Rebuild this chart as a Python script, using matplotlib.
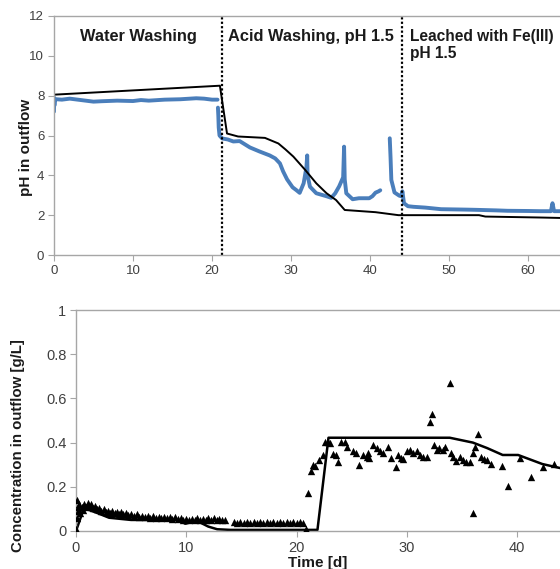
import numpy as np
import matplotlib
matplotlib.use('Agg')
import matplotlib.pyplot as plt

plt.rcParams['font.family'] = ['Liberation Sans', 'DejaVu Sans']

# pH measured (blue), NaN = gap
ph_t = [0, 0.02, 0.05, 0.1, 0.3, 1, 2, 3, 4, 5, 6, 8, 10, 11, 12, 14, 16, 18, 19, 20, 20.7,
        np.nan,
        20.75, 20.8, 20.85, 20.95, 21.3, 22, 22.7, 23.5, 24.8, 26, 27.3, 28, 28.6, 29, 29.5,
        30.2, 30.7, 31.1, 31.6, 31.95, 32.05, 32.1, 32.4, 33.2, 34.5, 35.1, 35.6, 36.1, 36.6,
        36.72, 36.8, 37.0, 37.4, 37.8, 38.6, 39.9, 40.3, 40.7, 41.1, 41.3,
        np.nan,
        42.5, 42.6, 42.7, 43.1, 43.7, 43.95, 44.1, 44.3, 44.8, 45.5, 47, 49, 52, 53.2, 56,
        57.4, 60, 61.6, 62.9, 63.1, 63.3, 64.1]
ph_meas = [7.2, 7.9, 7.5, 7.8, 7.82, 7.8, 7.85, 7.8, 7.75, 7.7, 7.72, 7.75, 7.73, 7.78, 7.75,
           7.8, 7.82, 7.87, 7.85, 7.8, 7.8,
           np.nan,
           7.4, 7.0, 6.4, 6.0, 5.85, 5.8, 5.7, 5.72, 5.4, 5.2, 5.0, 4.85, 4.6, 4.2, 3.8,
           3.4, 3.25, 3.12, 3.6, 4.4, 5.0, 4.0, 3.43, 3.1, 2.95, 2.87, 3.1, 3.45, 3.9,
           5.44, 3.8, 3.1, 2.95, 2.8, 2.85, 2.85, 2.95, 3.13, 3.2, 3.25,
           np.nan,
           5.86, 4.9, 3.77, 3.14, 2.98, 2.95, 3.2, 2.6, 2.45, 2.42, 2.38, 2.3, 2.28, 2.27, 2.24,
           2.22, 2.21, 2.2, 2.2, 2.6, 2.2, 2.2]

# pH model (black)
phm_t = [0, 21.0, 21.9, 23.3, 26.7, 28.4, 29.3, 30.3, 31.8, 33.2, 34.5, 35.7, 36.8, 40.7,
         43.6, 53.8, 54.6, 61.8, 64.1]
phm = [8.05, 8.5, 6.1, 5.95, 5.88, 5.6, 5.3, 4.94, 4.27, 3.6, 3.1, 2.76, 2.26, 2.15,
       2.0, 2.0, 1.93, 1.88, 1.86]

# concentration model (black)
cm_t = [0, 0.7, 1.2, 2.0, 3.0, 5.0, 9.0, 9.5, 9.9, 10.5, 11.0, 12.0, 12.8, 14, 21.9, 22.9,
        33.9, 36.0, 37.3, 38.7, 40.1, 42.3, 43.9]
cm = [0, 0.1, 0.095, 0.08, 0.06, 0.05, 0.05, 0.045, 0.033, 0.04, 0.045, 0.02, 0.008, 0.005,
      0.005, 0.422, 0.422, 0.40, 0.375, 0.344, 0.344, 0.303, 0.285]

# concentration measured (triangles)
c_t = [0.0, 0.05, 0.1, 0.15, 0.2, 0.3, 0.4, 0.5, 0.6, 0.75, 0.9, 1.05, 1.2, 1.35, 1.5, 1.7,
       1.9, 2.1, 2.3, 2.5, 2.7, 2.9, 3.1, 3.3, 3.5, 3.7, 3.9, 4.1, 4.3, 4.5, 4.75, 5.0, 5.25,
       5.5, 5.75, 6.0, 6.25, 6.5, 6.75, 7.0, 7.25, 7.5, 7.75, 8.0, 8.25, 8.5, 8.75, 9.0,
       9.25, 9.5, 9.75, 10.0, 10.25, 10.5, 10.75, 11.0, 11.25, 11.5, 11.75, 12.0, 12.25,
       12.5, 12.75, 13.0, 13.25, 13.5,
       14.3, 14.6, 14.9, 15.2, 15.5, 15.8, 16.1, 16.4, 16.7, 17.0, 17.3, 17.6, 17.9, 18.2,
       18.5, 18.8, 19.1, 19.4, 19.7, 20.0, 20.3, 20.6, 20.9,
       21.06, 21.28, 21.5, 21.7, 22.06, 22.36, 22.57, 22.9, 23.0, 23.27, 23.57, 23.78, 24.08,
       24.38, 24.6, 25.08, 25.4, 25.69, 26.0, 26.35, 26.5, 26.6, 26.96, 27.26, 27.56, 27.86,
       28.3, 28.6, 29.0, 29.2, 29.5, 29.7, 29.98, 30.3, 30.6, 30.9, 31.2, 31.5, 31.8, 32.1,
       32.3, 32.45, 32.7, 32.96, 33.26, 33.5, 33.9, 34.0, 34.2, 34.5, 34.8, 35.1, 35.4, 35.7,
       36.0, 36.0, 36.2, 36.5, 36.7, 37.0, 37.3, 37.6, 38.6, 39.2, 40.25, 41.3, 42.4, 43.4]
c_meas = [0.01, 0.14, 0.06, 0.11, 0.09, 0.12, 0.08, 0.11, 0.095, 0.12, 0.11, 0.125, 0.115,
          0.12, 0.105, 0.115, 0.1, 0.105, 0.09, 0.1, 0.085, 0.09, 0.08, 0.09, 0.08, 0.088,
          0.078, 0.085, 0.075, 0.082, 0.072, 0.078, 0.07, 0.075, 0.065, 0.07, 0.062, 0.068,
          0.06, 0.066, 0.06, 0.065, 0.058, 0.064, 0.058, 0.062, 0.056, 0.062, 0.055, 0.06,
          0.05, 0.055, 0.048, 0.055, 0.05, 0.058, 0.05, 0.056, 0.048, 0.06, 0.05, 0.058, 0.05,
          0.055, 0.048, 0.052,
          0.04, 0.035, 0.042, 0.036, 0.04, 0.035, 0.042, 0.037, 0.04, 0.035, 0.042, 0.036,
          0.04, 0.035, 0.042, 0.037, 0.04, 0.035, 0.042, 0.036, 0.04, 0.038, 0.01,
          0.17, 0.27, 0.30, 0.295, 0.32, 0.344, 0.404, 0.404, 0.40, 0.35, 0.344, 0.314, 0.404,
          0.404, 0.38, 0.36, 0.355, 0.30, 0.344, 0.336, 0.355, 0.33, 0.39, 0.375, 0.36, 0.355,
          0.378, 0.33, 0.29, 0.344, 0.33, 0.325, 0.36, 0.368, 0.353, 0.36, 0.344, 0.336, 0.336,
          0.495, 0.53, 0.39, 0.368, 0.375, 0.368, 0.38, 0.671, 0.353, 0.336, 0.317, 0.336, 0.32,
          0.31, 0.31, 0.08, 0.353, 0.38, 0.44, 0.335, 0.325, 0.32, 0.305, 0.294, 0.204, 0.33,
          0.246, 0.288, 0.303]

phase_bounds = [21.3, 44.0]
phase_labels = ['Water Washing', 'Acid Washing, pH 1.5', 'Leached with Fe(III)\npH 1.5']
phase_label_x = [3.3, 22.0, 45.1]
phase_label_fs = [11.8, 11.8, 11.2]

spine_c = '#a6a6a6'
txt_c = '#404040'
blue = '#4a7ebb'

fig = plt.figure(figsize=(5.6, 5.69), dpi=100)
ax1 = fig.add_axes([54/560, 1-255/569, 506/560, 239/569])
ax2 = fig.add_axes([76/560, 1-531/569, 484/560, 221/569])

ax1.plot(ph_t, ph_meas, color=blue, lw=2.8, solid_capstyle='round')
ax1.plot(phm_t, phm, color='black', lw=1.4)
for b in phase_bounds:
    ax1.axvline(b, color='black', ls=(0, (1, 1)), lw=1.6)
for x, s, fs in zip(phase_label_x, phase_labels, phase_label_fs):
    ax1.text(x, 11.35, s, fontsize=fs, fontweight='bold', color='#1a1a1a', va='top', ha='left',
             linespacing=1.2)
ax1.set_xlim(0, 64.05)
ax1.set_ylim(0, 12)
ax1.set_xticks([0, 10, 20, 30, 40, 50, 60])
ax1.set_yticks([0, 2, 4, 6, 8, 10, 12])
ax1.set_ylabel('pH in outflow', fontsize=11, fontweight='bold', color='#1a1a1a')
ax1.yaxis.set_label_coords(-0.042, 0.45)

ax2.plot(cm_t, cm, color='black', lw=1.8)
ax2.scatter(c_t, c_meas, marker='^', s=28, color='black', linewidths=0, zorder=3)
ax2.set_xlim(0, 43.9)
ax2.set_ylim(0, 1)
ax2.set_xticks([0, 10, 20, 30, 40])
ax2.set_yticks([0, 0.2, 0.4, 0.6, 0.8, 1])
ax2.set_yticklabels(['0', '0.2', '0.4', '0.6', '0.8', '1'])
ax2.set_ylabel('Concentration in outflow [g/L]', fontsize=10.8, fontweight='bold', color='#1a1a1a')
ax2.yaxis.set_label_coords(-0.106, 0.385)
ax2.set_xlabel('Time [d]', fontsize=11, fontweight='bold', color='#1a1a1a', labelpad=1)

for ax, fs in ((ax1, 9.5), (ax2, 10.5)):
    ax.spines['right'].set_visible(False)
    for s in ('left', 'top', 'bottom'):
        ax.spines[s].set_color(spine_c)
        ax.spines[s].set_linewidth(1.0)
    ax.tick_params(direction='out', length=4, color=spine_c, labelcolor=txt_c, labelsize=fs, pad=3)

fig.savefig('out.png', dpi=100)
